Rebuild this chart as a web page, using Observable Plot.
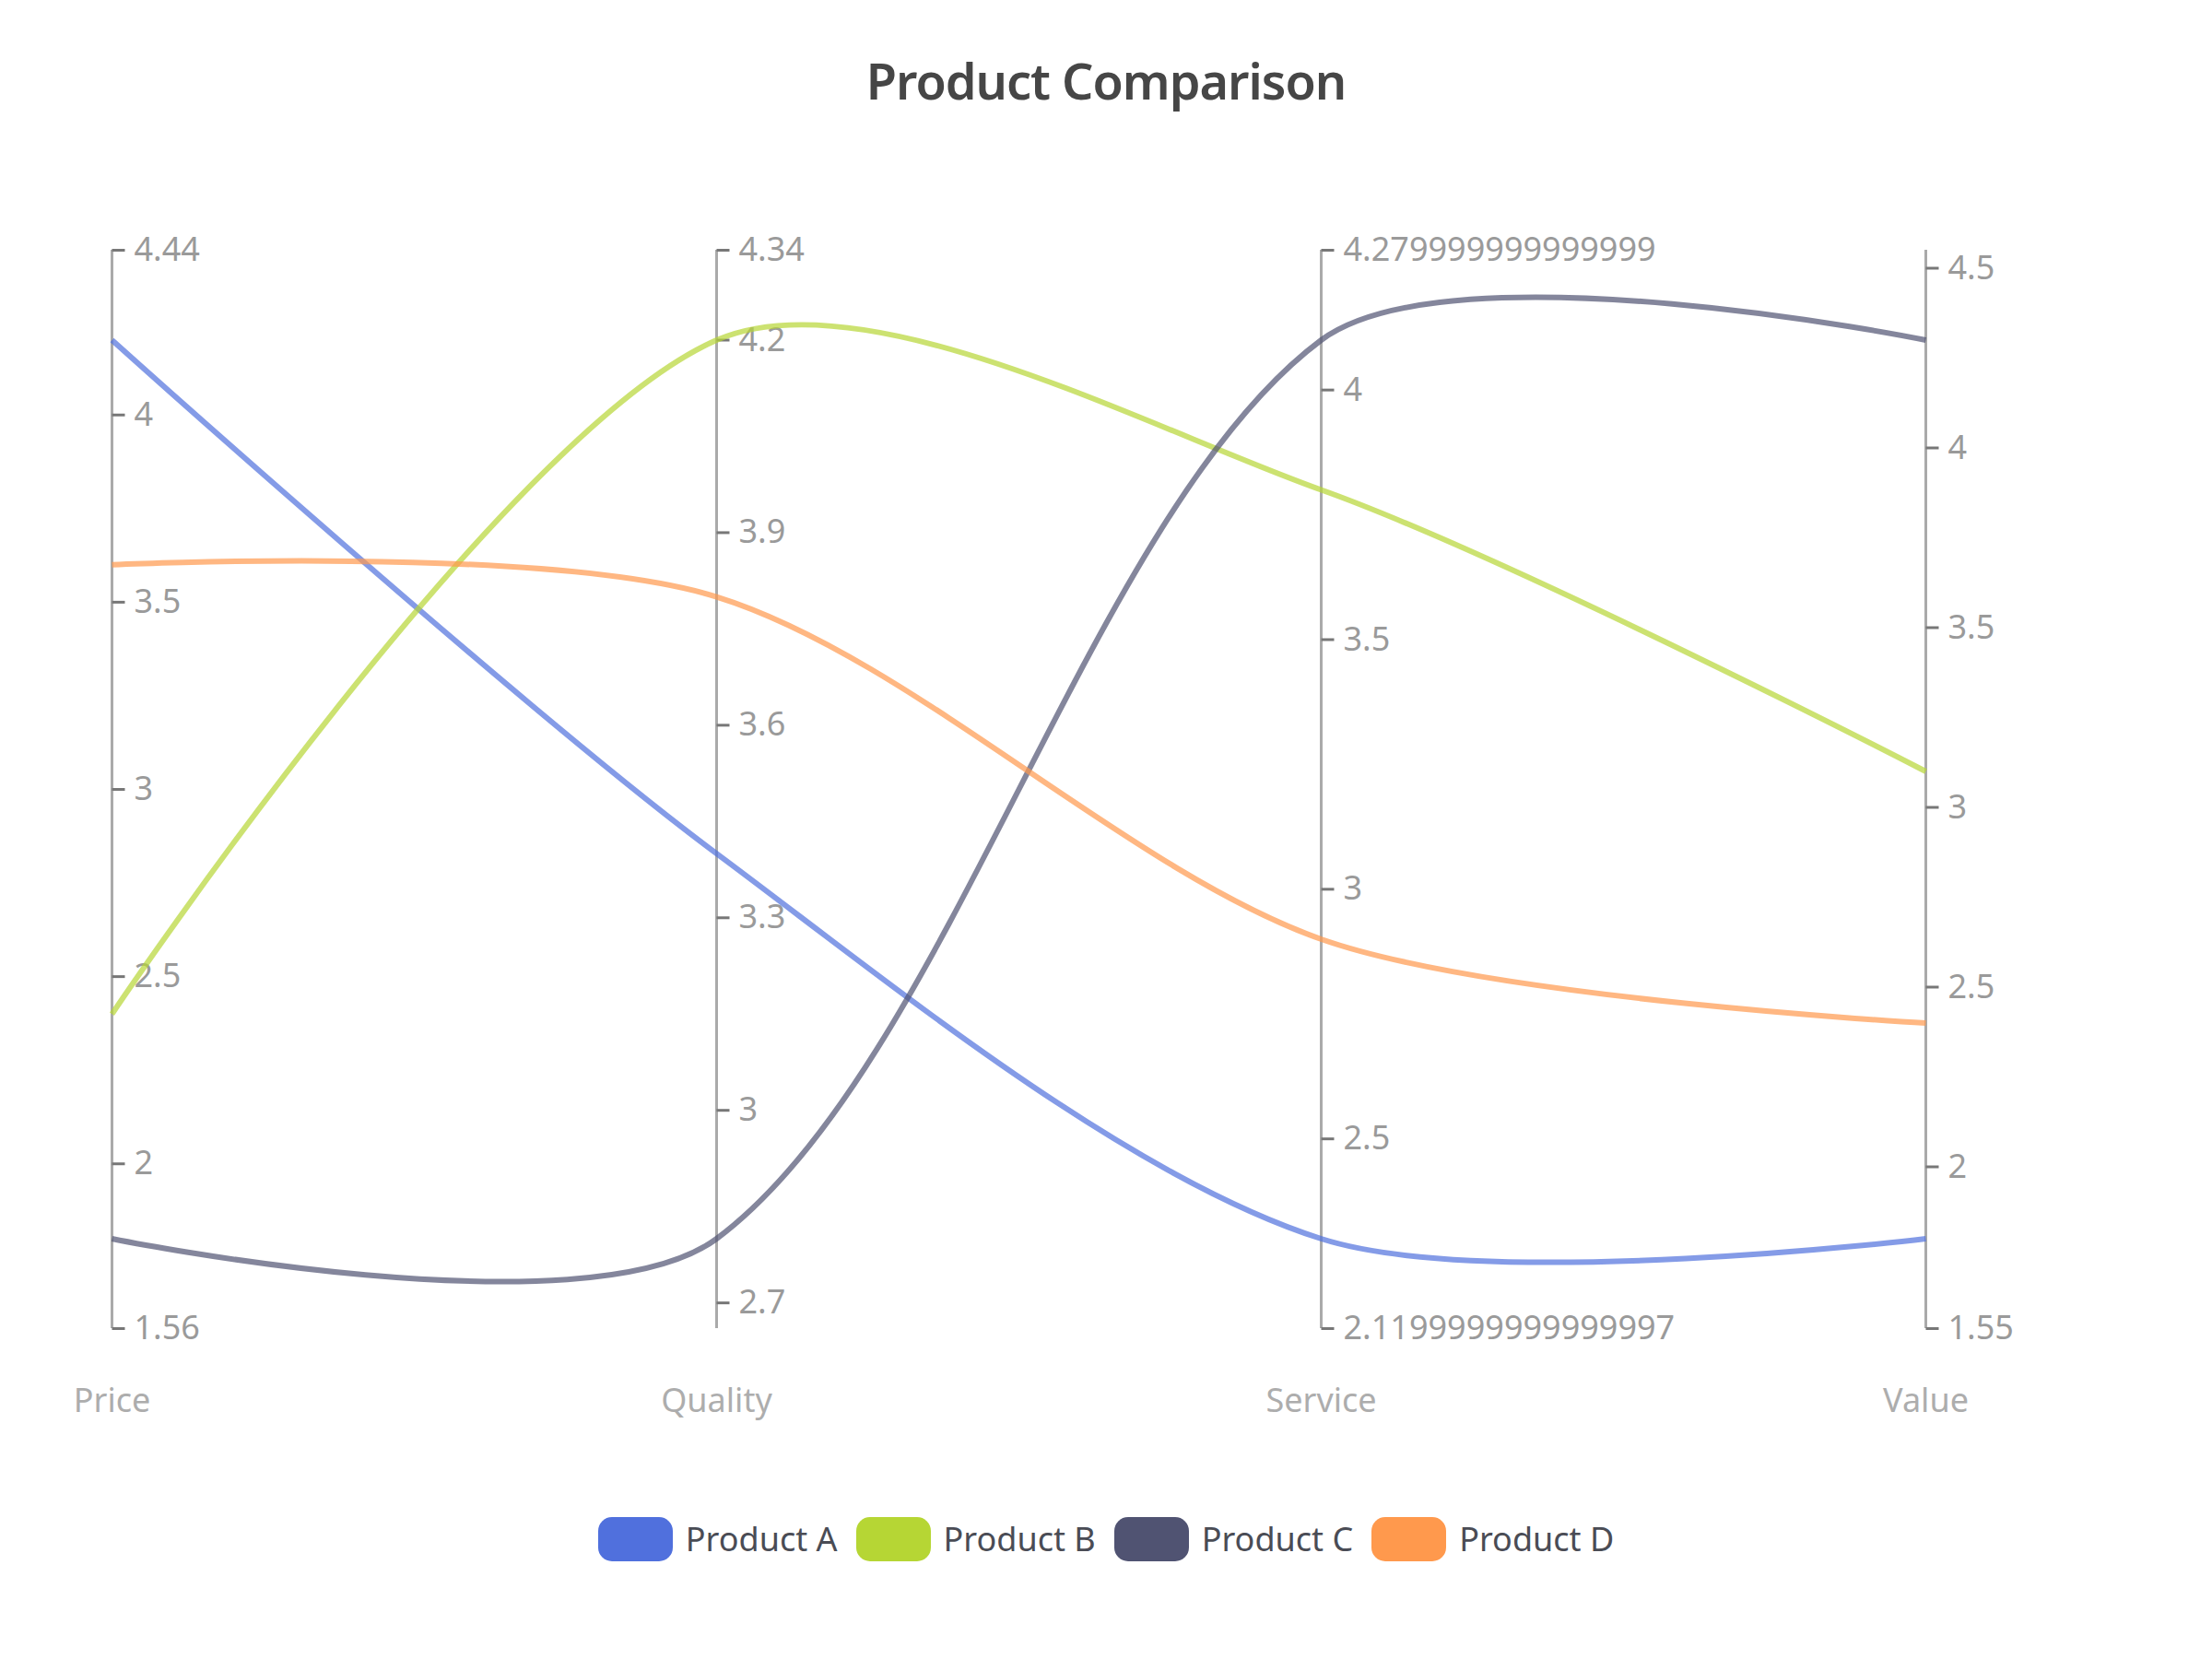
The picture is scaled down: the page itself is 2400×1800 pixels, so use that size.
<!DOCTYPE html>
<html>
<head>
<meta charset="utf-8">
<script src="https://cdn.jsdelivr.net/npm/d3@7"></script>
<script src="https://cdn.jsdelivr.net/npm/@observablehq/plot@0.6"></script>
<style>
  html, body { margin: 0; padding: 0; background: #fff; }
  body { width: 2400px; height: 1800px; overflow: hidden; font-family: "Noto Sans", "Open Sans", sans-serif; }
  #title { height: 150px; box-sizing: border-box; padding-top: 60px; text-align: center;
           font-size: 54px; line-height: 54px; font-weight: 600; color: #464646; letter-spacing: -1px; }
  #chart { height: 1450px; overflow: hidden; }
  #chart svg { display: block; }
  #legend { height: 140px; box-sizing: border-box; display: flex; justify-content: center; align-items: center; }
  #legend .item { display: flex; align-items: center; margin: 0 10px; height: 48px; }
  #legend .swatch { width: 81px; height: 48px; border-radius: 15px; margin-right: 14px; }
  #legend .label { font-size: 36px; color: #4a4c55; line-height: 48px; }
</style>
</head>
<body>
<div id="title">Product Comparison</div>
<div id="chart"></div>
<div id="legend"></div>
<script>
// ---- data ----
const dimensions = ["Price", "Quality", "Service", "Value"];
const products = ["Product A", "Product B", "Product C", "Product D"];
const colors = ["#5070dd", "#b6d634", "#505372", "#ff994d"];

const productA = [4.2, 3.4, 2.3, 1.8];
const productB = [2.4, 4.2, 3.8, 3.1];
const productC = [1.8, 2.8, 4.1, 4.3];
const productD = [3.6, 3.8, 2.9, 2.4];

const axisMin = [1.56, 2.66, 2.12, 1.55];
const axisMax = [4.44, 4.34, 4.28, 4.55];

const priceTicks = [1.56, 2, 2.5, 3, 3.5, 4, 4.44];
const priceTickLabels = ["1.56", "2", "2.5", "3", "3.5", "4", "4.44"];
const qualityTicks = [2.7, 3, 3.3, 3.6, 3.9, 4.2, 4.34];
const qualityTickLabels = ["2.7", "3", "3.3", "3.6", "3.9", "4.2", "4.34"];
const serviceTicks = [2.12, 2.5, 3, 3.5, 4, 4.28];
const serviceTickLabels = ["2.1199999999999997", "2.5", "3", "3.5", "4", "4.279999999999999"];
const valueTicks = [1.55, 2, 2.5, 3, 3.5, 4, 4.5];
const valueTickLabels = ["1.55", "2", "2.5", "3", "3.5", "4", "4.5"];

// ---- derived tables ----
const seriesValues = [productA, productB, productC, productD];
const norm = (j, v) => (v - axisMin[j]) / (axisMax[j] - axisMin[j]);

const lineRows = [];
products.forEach((p, i) => {
  dimensions.forEach((d, j) => {
    lineRows.push({product: p, dim: d, t: norm(j, seriesValues[i][j])});
  });
});

const tickSets = [
  [priceTicks, priceTickLabels],
  [qualityTicks, qualityTickLabels],
  [serviceTicks, serviceTickLabels],
  [valueTicks, valueTickLabels]
];
const tickRows = [];
tickSets.forEach(([vals, labels], j) => {
  vals.forEach((v, k) => tickRows.push({dim: dimensions[j], t: norm(j, v), label: labels[k]}));
});

// ECharts/zrender-like smooth bezier curve (smooth = 0.3)
const SMOOTH = 0.3;
function zrSmooth(context) {
  let pts;
  return {
    areaStart() {}, areaEnd() {},
    lineStart() { pts = []; },
    point(x, y) { pts.push([+x, +y]); },
    lineEnd() {
      const n = pts.length;
      if (!n) return;
      const cps = [];
      for (let i = 0; i < n; i++) {
        const p = pts[i];
        if (i === 0 || i === n - 1) { cps.push(p); continue; }
        const pr = pts[i - 1], nx = pts[i + 1];
        const vx = (nx[0] - pr[0]) * SMOOTH, vy = (nx[1] - pr[1]) * SMOOTH;
        let d0 = Math.hypot(p[0] - pr[0], p[1] - pr[1]);
        let d1 = Math.hypot(p[0] - nx[0], p[1] - nx[1]);
        const s = d0 + d1;
        if (s) { d0 /= s; d1 /= s; }
        cps.push([p[0] - vx * d0, p[1] - vy * d0]);
        cps.push([p[0] + vx * d1, p[1] + vy * d1]);
      }
      context.moveTo(pts[0][0], pts[0][1]);
      for (let i = 0; i < n - 1; i++) {
        const c0 = cps[i * 2], c1 = cps[i * 2 + 1], q = pts[i + 1];
        context.bezierCurveTo(c0[0], c0[1], c1[0], c1[1], q[0], q[1]);
      }
    }
  };
}

const tickSymbol = {
  draw(context) { context.moveTo(0, 0); context.lineTo(14, 0); }
};

const chart = Plot.plot({
  width: 2400,
  height: 1450,
  margin: 0,
  x: {type: "point", domain: dimensions, range: [121, 2089], padding: 0, axis: null},
  y: {domain: [0, 1], range: [1291, 121], axis: null},
  color: {domain: products, range: colors},
  style: {fontFamily: "Noto Sans, Open Sans, sans-serif", background: "white"},
  marks: [
    Plot.ruleX(dimensions, {x: d => d, y1: 0, y2: 1, stroke: "#aaaaaa", strokeWidth: 3}),
    Plot.dot(tickRows, {x: "dim", y: "t", symbol: tickSymbol, r: 4, fill: "none", stroke: "#777777", strokeWidth: 3}),
    Plot.text(tickRows, {x: "dim", y: "t", text: "label", dx: 24, textAnchor: "start", fontSize: 36, fill: "#9a9a9a"}),
    Plot.text(dimensions, {x: d => d, y: 0, text: d => d, dy: 79, textAnchor: "middle", fontSize: 36, fill: "#adadad"}),
    Plot.line(lineRows, {x: "dim", y: "t", z: "product", stroke: "product", curve: zrSmooth,
      strokeWidth: 6, strokeOpacity: 0.7, strokeLinejoin: "round", strokeLinecap: "butt"})
  ]
});
document.getElementById("chart").appendChild(chart);

const legend = document.getElementById("legend");
products.forEach((p, i) => {
  const item = document.createElement("div");
  item.className = "item";
  const sw = document.createElement("div");
  sw.className = "swatch";
  sw.style.background = colors[i];
  const lb = document.createElement("span");
  lb.className = "label";
  lb.textContent = p;
  item.appendChild(sw);
  item.appendChild(lb);
  legend.appendChild(item);
});
</script>
</body>
</html>
